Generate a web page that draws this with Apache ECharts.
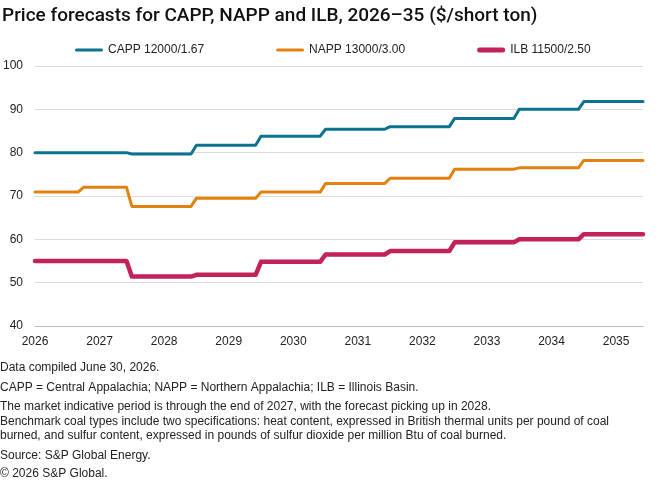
<!DOCTYPE html>
<html>
<head>
<meta charset="utf-8">
<script src="https://cdn.jsdelivr.net/npm/echarts@6/dist/echarts.min.js"></script>
<style>
  html, body { margin: 0; padding: 0; background: #fff; }
  #main { width: 663px; height: 480px; }
</style>
</head>
<body>
<div id="main"></div>
<script>
// x labels, one per year (placed at July, the first month of the data)
var yearLabels = ['2026', '2027', '2028', '2029', '2030', '2031', '2032', '2033', '2034', '2035'];
var seriesNames = ['CAPP 12000/1.67', 'NAPP 13000/3.00', 'ILB 11500/2.50'];

// flat price periods: [first month, last month, $/short ton]
var cappSteps = [
  ['2026-07', '2027-12', 80.0],
  ['2028-01', '2028-12', 79.7],
  ['2029-01', '2029-12', 81.7],
  ['2030-01', '2030-12', 83.8],
  ['2031-01', '2031-12', 85.4],
  ['2032-01', '2032-12', 86.0],
  ['2033-01', '2033-12', 87.9],
  ['2034-01', '2034-12', 90.0],
  ['2035-01', '2035-12', 91.8]
];
var nappSteps = [
  ['2026-07', '2027-03', 70.9],
  ['2027-04', '2027-12', 72.0],
  ['2028-01', '2028-12', 67.6],
  ['2029-01', '2029-12', 69.5],
  ['2030-01', '2030-12', 70.9],
  ['2031-01', '2031-12', 72.9],
  ['2032-01', '2032-12', 74.1],
  ['2033-01', '2033-12', 76.2],
  ['2034-01', '2034-12', 76.5],
  ['2035-01', '2035-12', 78.2]
];
var ilbSteps = [
  ['2026-07', '2027-12', 55.0],
  ['2028-01', '2028-12', 51.4],
  ['2029-01', '2029-12', 51.8],
  ['2030-01', '2030-12', 54.8],
  ['2031-01', '2031-12', 56.5],
  ['2032-01', '2032-12', 57.3],
  ['2033-01', '2033-12', 59.3],
  ['2034-01', '2034-12', 60.0],
  ['2035-01', '2035-12', 61.2]
];

var notes = [
  'Data compiled June 30, 2026.',
  'CAPP = Central Appalachia; NAPP = Northern Appalachia; ILB = Illinois Basin.',
  'The market indicative period is through the end of 2027, with the forecast picking up in 2028.',
  'Benchmark coal types include two specifications: heat content, expressed in British thermal units per pound of coal',
  'burned, and sulfur content, expressed in pounds of sulfur dioxide per million Btu of coal burned.',
  'Source: S&P Global Energy.',
  '\u00a9 2026 S&P Global.'
];

// months counted from July 2026
function monthIdx(s) {
  var p = s.split('-');
  return (parseInt(p[0], 10) - 2026) * 12 + (parseInt(p[1], 10) - 7);
}
function toPoints(steps) {
  var pts = [];
  steps.forEach(function (s) {
    pts.push([monthIdx(s[0]), s[2]]);
    pts.push([monthIdx(s[1]), s[2]]);
  });
  return pts;
}

var colors = ['#0b7390', '#e3810e', '#c2215a'];
var widths = [3, 3, 4.5];
var allSteps = [cappSteps, nappSteps, ilbSteps];
// rounded bar icons for the legend (thin / thick)
var thinIcon = 'path://M1.5,0L26.5,0A1.5,1.5,0,0,1,26.5,3L1.5,3A1.5,1.5,0,0,1,1.5,0Z';
var thickIcon = 'path://M2.5,0L25.5,0A2.5,2.5,0,0,1,25.5,5L2.5,5A2.5,2.5,0,0,1,2.5,0Z';
var icons = [thinIcon, thinIcon, thickIcon];

var noteY = [367, 387, 406, 421, 435, 455, 473];
var graphics = notes.map(function (t, i) {
  return {
    type: 'text', left: 0, top: noteY[i] - 5,
    style: { text: t, fontSize: 12, fontFamily: 'Liberation Sans', fill: '#222' }
  };
});

var myChart = echarts.init(document.getElementById('main'), null, { renderer: 'canvas' });
var option = {
  animation: false,
  color: colors,
  title: {
    text: 'Price forecasts for CAPP, NAPP and ILB, 2026\u201335 ($/short ton)',
    left: -3, top: 2,
    textStyle: { fontFamily: 'Roboto', fontWeight: 500, fontSize: 19, color: '#111' }
  },
  legend: {
    left: 70, top: 39,
    itemWidth: 28, itemHeight: 6, itemGap: 72,
    textStyle: { fontFamily: 'Liberation Sans', fontSize: 12, color: '#222' },
    data: seriesNames.map(function (n, i) { return { name: n, icon: icons[i] }; })
  },
  grid: { left: 35, right: 20, top: 66, bottom: 154, containLabel: false },
  xAxis: {
    type: 'value', min: 0, max: 113, interval: 12,
    axisLine: { show: true, lineStyle: { color: '#bdbdbd', width: 1 } },
    axisTick: { show: false },
    splitLine: { show: false },
    axisLabel: {
      margin: 10, fontFamily: 'Liberation Sans', fontSize: 12, color: '#222',
      showMaxLabel: false,
      formatter: function (v) { return v % 12 === 0 ? (yearLabels[v / 12] || '') : ''; }
    }
  },
  yAxis: {
    type: 'value', min: 40, max: 100, interval: 10,
    axisLine: { show: false },
    axisTick: { show: false },
    splitLine: { lineStyle: { color: '#dcdcdc', width: 1 } },
    axisLabel: { margin: 12, fontFamily: 'Liberation Sans', fontSize: 12, color: '#222' }
  },
  graphic: graphics,
  series: seriesNames.map(function (n, i) {
    return {
      name: n, type: 'line', symbol: 'none', showSymbol: false,
      data: toPoints(allSteps[i]),
      lineStyle: { width: widths[i], color: colors[i], cap: 'round', join: 'round' },
      itemStyle: { color: colors[i] },
      z: 3 + i
    };
  })
};
myChart.setOption(option);
</script>
</body>
</html>
